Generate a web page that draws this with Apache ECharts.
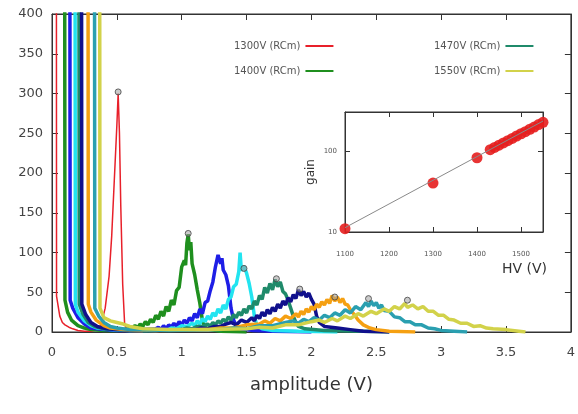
<!DOCTYPE html>
<html><head><meta charset="utf-8">
<script src="https://cdn.jsdelivr.net/npm/echarts@6/dist/echarts.min.js"></script>
<style>html,body{margin:0;padding:0;background:#fff}#c{width:578px;height:414px}</style>
</head><body><div id="c"></div>
<script>
// ---- main panel: amplitude histograms ([amplitude V, counts]) ----
const h1300 = [[0,2000],[0.03,2000],[0.035,45],[0.06,20],[0.08,12],[0.1,9],[0.13,6],[0.16,4],[0.2,2],[0.25,1],[0.3,1],[0.36,3],[0.38,10],[0.41,30],[0.44,70],[0.46,120],[0.48,190],[0.5,260],[0.51,300],[0.52,250],[0.53,160],[0.545,60],[0.56,10],[0.58,1],[0.7,0]];
const h1400 = [[0,2000],[0.09,2000],[0.1,40],[0.12,25],[0.15,15],[0.2,8],[0.25,5],[0.3,3],[0.4,2],[0.5,2],[0.6,4],[0.62,5],[0.64,8],[0.66,5],[0.68,10],[0.7,7],[0.72,13],[0.74,9],[0.76,16],[0.78,12],[0.8,21],[0.82,16],[0.84,26],[0.86,20],[0.88,32],[0.9,26],[0.92,40],[0.94,34],[0.96,52],[0.98,56],[1.0,82],[1.02,90],[1.03,84],[1.04,112],[1.05,123],[1.06,103],[1.07,113],[1.08,86],[1.1,72],[1.12,53],[1.14,36],[1.16,14],[1.18,6],[1.22,3],[1.3,1],[1.5,0]];
const h1430 = [[0,2000],[0.13,2000],[0.14,40],[0.16,30],[0.2,18],[0.25,10],[0.3,5],[0.4,3],[0.5,2],[0.6,2],[0.7,3],[0.8,4],[0.82,6],[0.84,3],[0.86,8],[0.88,4],[0.9,9],[0.92,6],[0.94,11],[0.96,7],[0.98,13],[1.0,9],[1.02,15],[1.04,11],[1.06,18],[1.08,14],[1.1,23],[1.12,18],[1.14,29],[1.16,23],[1.18,37],[1.2,39],[1.22,52],[1.24,63],[1.26,82],[1.28,97],[1.3,86],[1.31,93],[1.32,78],[1.34,72],[1.36,58],[1.38,30],[1.4,15],[1.42,8],[1.46,4],[1.55,2],[1.7,1],[2.0,0]];
const h1450 = [[0,2000],[0.17,2000],[0.18,35],[0.2,25],[0.25,14],[0.3,8],[0.35,5],[0.45,3],[0.6,2],[0.8,2],[0.9,3],[0.92,5],[0.96,4],[1.0,8],[1.04,7],[1.08,11],[1.1,8],[1.12,14],[1.14,10],[1.16,17],[1.18,13],[1.2,20],[1.22,16],[1.24,24],[1.26,20],[1.28,29],[1.3,24],[1.32,34],[1.34,29],[1.36,41],[1.38,44],[1.4,57],[1.42,60],[1.44,76],[1.45,100],[1.46,77],[1.48,83],[1.5,74],[1.52,61],[1.54,44],[1.56,20],[1.58,8],[1.62,4],[1.7,2],[1.9,1],[2.2,0]];
const h1470 = [[0,2000],[0.2,2000],[0.21,35],[0.24,22],[0.28,12],[0.33,7],[0.4,4],[0.5,3],[0.7,2],[1.0,3],[1.04,5],[1.08,4],[1.12,7],[1.16,7],[1.2,10],[1.22,7],[1.24,12],[1.26,9],[1.28,14],[1.3,11],[1.32,16],[1.34,13],[1.36,19],[1.38,15],[1.4,22],[1.42,18],[1.44,25],[1.46,21],[1.48,29],[1.5,24],[1.52,33],[1.54,29],[1.56,39],[1.58,34],[1.6,46],[1.62,41],[1.64,56],[1.66,49],[1.68,61],[1.7,53],[1.72,66],[1.74,57],[1.76,63],[1.78,51],[1.8,48],[1.82,40],[1.84,30],[1.86,20],[1.88,12],[1.9,7],[1.95,4],[2.1,2],[2.4,1],[2.6,0]];
const h1490 = [[0,2000],[0.22,2000],[0.23,35],[0.26,22],[0.3,12],[0.35,7],[0.42,4],[0.5,3],[0.8,2],[1.1,3],[1.15,5],[1.2,4],[1.25,7],[1.3,7],[1.34,10],[1.38,12],[1.42,9],[1.46,15],[1.5,12],[1.54,18],[1.56,14],[1.58,21],[1.6,17],[1.62,25],[1.64,20],[1.66,28],[1.68,23],[1.7,31],[1.72,26],[1.74,35],[1.76,30],[1.78,39],[1.8,34],[1.82,43],[1.84,38],[1.86,47],[1.88,42],[1.9,53],[1.92,46],[1.94,51],[1.96,44],[1.98,49],[2.0,41],[2.02,35],[2.04,20],[2.06,12],[2.1,7],[2.2,5],[2.3,3],[2.4,1],[2.6,0]];
const h1510 = [[0,2000],[0.27,2000],[0.28,35],[0.3,25],[0.34,15],[0.4,8],[0.45,5],[0.55,3],[0.8,2],[1.2,3],[1.3,5],[1.4,5],[1.5,9],[1.6,10],[1.64,14],[1.68,11],[1.72,17],[1.76,14],[1.8,20],[1.84,17],[1.88,23],[1.9,19],[1.92,26],[1.94,22],[1.96,29],[1.98,25],[2.0,32],[2.02,28],[2.04,35],[2.06,31],[2.08,38],[2.1,34],[2.12,41],[2.14,36],[2.16,46],[2.18,39],[2.2,44],[2.22,37],[2.24,42],[2.26,35],[2.28,34],[2.3,28],[2.33,22],[2.36,15],[2.4,9],[2.45,5],[2.5,3],[2.6,1],[2.8,0]];
const h1530 = [[0,2000],[0.32,2000],[0.33,30],[0.36,20],[0.4,12],[0.45,7],[0.5,5],[0.6,3],[0.9,2],[1.3,3],[1.4,5],[1.5,4],[1.6,8],[1.7,8],[1.8,12],[1.86,14],[1.9,11],[1.94,16],[1.98,13],[2.02,18],[2.06,15],[2.1,21],[2.14,18],[2.18,24],[2.22,21],[2.26,28],[2.3,24],[2.34,32],[2.38,28],[2.42,37],[2.44,32],[2.46,39],[2.48,33],[2.5,37],[2.52,30],[2.54,34],[2.56,27],[2.6,26],[2.64,19],[2.68,18],[2.72,13],[2.76,13],[2.8,9],[2.85,9],[2.9,5],[2.95,4],[3.0,2],[3.1,1],[3.2,0]];
const h1550 = [[0,2000],[0.36,2000],[0.37,30],[0.4,18],[0.45,14],[0.5,12],[0.55,10],[0.6,7],[0.7,4],[0.9,3],[1.2,3],[1.5,4],[1.6,6],[1.7,5],[1.8,9],[1.9,9],[2.0,13],[2.06,15],[2.1,12],[2.16,17],[2.2,14],[2.26,20],[2.3,17],[2.36,23],[2.4,20],[2.46,26],[2.5,23],[2.56,29],[2.6,26],[2.64,32],[2.68,29],[2.72,36],[2.74,31],[2.78,34],[2.82,29],[2.86,32],[2.9,26],[2.94,26],[2.98,21],[3.02,21],[3.06,16],[3.1,15],[3.15,11],[3.2,11],[3.25,7],[3.3,8],[3.35,5],[3.4,4],[3.5,3],[3.6,1],[3.65,0]];
// fitted peak positions
const peakAmp = [0.51,1.05,1.48,1.73,1.91,2.18,2.44,2.74];
const peakCnt = [302,124,80,67,54,44,42,40];
// ---- inset: gain vs HV ----
const hv   = [1100,1300,1400,1430,1440,1450,1460,1470,1480,1490,1500,1510,1520,1530,1540,1550];
const gain = [11,40,82,103,110,117,125,133,142,152,162,172,184,196,210,224];
const fitHV = [1100,1550];
const fitGain = [11.3,232];
const legendLeft = ['1300V (RCm)','1400V (RCm)'];
const legendRight = ['1470V (RCm)','1550V (RCm)'];

const curves = [
  {name:'1300V (RCm)', data:h1300, color:'#e8202a', w:1.5},
  {name:'1400V (RCm)', data:h1400, color:'#1f8f1e', w:3.5},
  {name:'1430V', data:h1430, color:'#1e1ee6', w:3.5},
  {name:'1450V', data:h1450, color:'#22e4f0', w:3.5},
  {name:'1470V (RCm)', data:h1470, color:'#1f8a6a', w:3.5},
  {name:'1490V', data:h1490, color:'#10108c', w:3.5},
  {name:'1510V', data:h1510, color:'#f5a012', w:3.5},
  {name:'1530V', data:h1530, color:'#2a9fb0', w:3.5},
  {name:'1550V (RCm)', data:h1550, color:'#d2d24a', w:3.5}
];
const F = 'DejaVu Sans';
const axCol = '#333';
const series = curves.map(c => ({
  type:'line', name:c.name, data:c.data, xAxisIndex:0, yAxisIndex:0,
  symbol:'none', lineStyle:{color:c.color, width:c.w}, itemStyle:{color:c.color},
  animation:false
}));
series.push({type:'scatter', xAxisIndex:0, yAxisIndex:0, data:peakAmp.map((x,i)=>[x,peakCnt[i]]),
  symbol:'circle', symbolSize:6, itemStyle:{color:'rgba(160,160,160,0.7)', borderColor:'#444', borderWidth:1}, z:5, animation:false});
series.push({type:'line', xAxisIndex:2, yAxisIndex:2, data:fitHV.map((x,i)=>[x,fitGain[i]]),
  symbol:'none', lineStyle:{color:'#8a8a8a', width:1}, animation:false});
series.push({type:'scatter', xAxisIndex:2, yAxisIndex:2, data:hv.map((x,i)=>[x,gain[i]]),
  symbol:'circle', symbolSize:11, itemStyle:{color:'#e61e1e', opacity:0.9}, animation:false});

const legStyle = {orient:'vertical', align:'right', icon:'rect', itemWidth:28, itemHeight:2, itemGap:15,
  textStyle:{fontSize:10, color:'#555', fontFamily:F}, selectedMode:false};
const plain = v => String(v);
const line = {show:true, onZero:false, lineStyle:{color:axCol, width:1}};
const tick = len => ({show:true, inside:true, length:len, lineStyle:{color:axCol}});

const chart = echarts.init(document.getElementById('c'), null, {renderer:'canvas'});
chart.setOption({
  backgroundColor:'#fff',
  animation:false,
  grid:[
    {left:52, right:6, top:14, bottom:82, show:true, borderColor:axCol, borderWidth:1, backgroundColor:'transparent'},
    {left:345, top:112, width:198, height:120, show:true, backgroundColor:'#fff', borderColor:axCol, borderWidth:1}
  ],
  legend:[
    Object.assign({data:legendLeft, left:229, top:36}, legStyle),
    Object.assign({data:legendRight, left:429, top:36}, legStyle)
  ],
  xAxis:[
    {gridIndex:0, type:'value', position:'bottom', min:0, max:4, interval:0.5,
     axisLine:line, axisTick:tick(6),
     axisLabel:{color:'#444', fontSize:13, margin:14, fontFamily:F}, splitLine:{show:false},
     name:'amplitude (V)', nameLocation:'middle', nameGap:44, nameTextStyle:{fontSize:18, color:'#333', fontFamily:F}},
    {gridIndex:0, type:'value', position:'top', min:0, max:4, interval:0.5,
     axisLine:line, axisTick:tick(6), axisLabel:{show:false}, splitLine:{show:false}},
    {gridIndex:1, type:'value', position:'bottom', min:1100, max:1550, interval:100,
     axisLine:line, axisTick:tick(5),
     axisLabel:{color:'#555', fontSize:7, margin:19, fontFamily:F, showMaxLabel:false, formatter:plain}, splitLine:{show:false}},
    {gridIndex:1, type:'value', position:'top', min:1100, max:1550, interval:100,
     axisLine:line, axisTick:tick(5), axisLabel:{show:false}, splitLine:{show:false}}
  ],
  yAxis:[
    {gridIndex:0, type:'value', position:'left', min:0, max:400, interval:50,
     axisLine:line, axisTick:tick(6),
     axisLabel:{color:'#444', fontSize:13, margin:9, fontFamily:F}, splitLine:{show:false}},
    {gridIndex:0, type:'value', position:'right', min:0, max:400, interval:50,
     axisLine:line, axisTick:tick(6), axisLabel:{show:false}, splitLine:{show:false}},
    {gridIndex:1, type:'log', logBase:10, position:'left', min:10, max:300,
     axisLine:line, axisTick:tick(5),
     axisLabel:{color:'#555', fontSize:7, margin:8, fontFamily:F, showMaxLabel:false, formatter:plain}, splitLine:{show:false},
     name:'gain', nameLocation:'middle', nameGap:28, nameTextStyle:{fontSize:12, color:'#333', fontFamily:F}},
    {gridIndex:1, type:'log', logBase:10, position:'right', min:10, max:300,
     axisLine:line, axisTick:tick(5), axisLabel:{show:false}, splitLine:{show:false}}
  ],
  graphic:[
    {type:'text', left:502, top:262, style:{text:'HV (V)', fontSize:14, fill:'#333', fontFamily:F}}
  ],
  series:series
});
</script>
</body></html>
